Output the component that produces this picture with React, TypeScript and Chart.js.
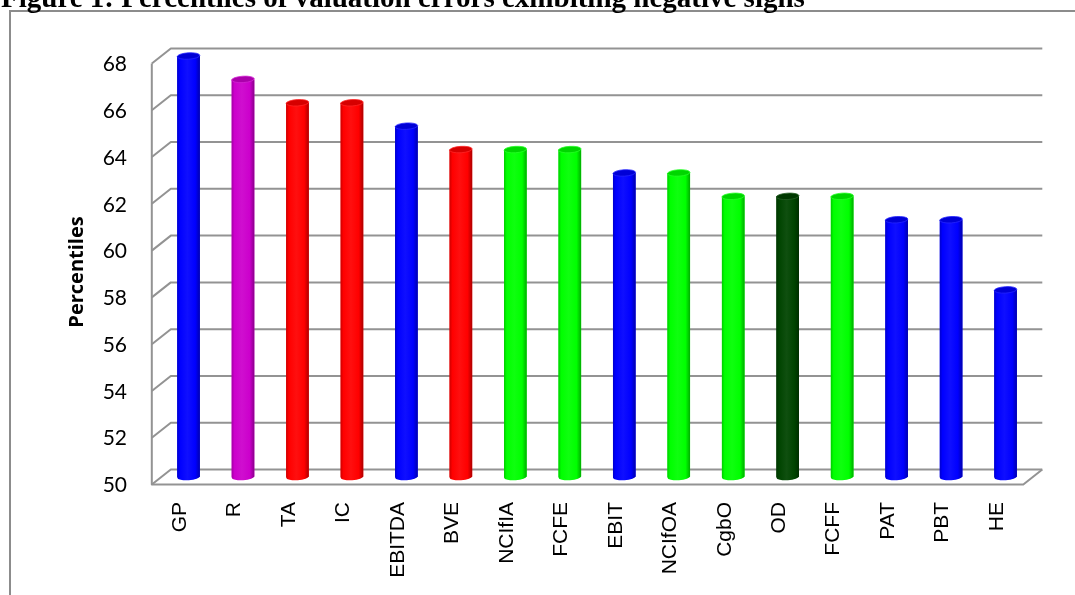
import { useEffect, useRef } from "react";
import { Chart, registerables } from "chart.js";

Chart.register(...registerables);

// Measures and their percentile values
const categories = ["GP", "R", "TA", "IC", "EBITDA", "BVE", "NCIfIA", "FCFE", "EBIT", "NCIfOA", "CgbO", "OD", "FCFF", "PAT", "PBT", "HE"];
const percentiles = [68, 67, 66, 66, 65, 64, 64, 64, 63, 63, 62, 62, 62, 61, 61, 58];
const barColors = [
  "#0000FF", "#CC00CC", "#FF0000", "#FF0000", "#0000FF", "#FF0000", "#00FF00", "#00FF00",
  "#0000FF", "#00FF00", "#00FF00", "#004400", "#00FF00", "#0000FF", "#0000FF", "#0000FF",
];
const yTicks = [50, 52, 54, 56, 58, 60, 62, 64, 66, 68];
const titleText = "Figure 1: Percentiles of valuation errors exhibiting negative signs";
const axisTitle = "Percentiles";

// half of the box depth used for the pseudo-3D walls
const DX = 9.5;
const DY = 7.5;

function rgb(hex: string): number[] {
  const h = hex.replace("#", "");
  return [0, 2, 4].map((i) => parseInt(h.slice(i, i + 2), 16));
}
function shade(hex: string, f: number): string {
  const [r, g, b] = rgb(hex);
  return `rgb(${Math.round(r * f)},${Math.round(g * f)},${Math.round(b * f)})`;
}
function tint(hex: string, f: number): string {
  const [r, g, b] = rgb(hex);
  const m = (c: number) => Math.round(c + (255 - c) * f);
  return `rgb(${m(r)},${m(g)},${m(b)})`;
}

const scenePlugin = {
  id: "scene3d",
  beforeDraw(chart: any) {
    const ctx: CanvasRenderingContext2D = chart.ctx;
    const { left, right } = chart.chartArea;
    const ys = chart.scales.y;
    const xs = chart.scales.x;
    ctx.save();
    ctx.fillStyle = "#ffffff";
    ctx.fillRect(0, 0, chart.width, chart.height);

    // outer frame (left and top edges)
    ctx.strokeStyle = "#8c8c8c";
    ctx.lineWidth = 2;
    ctx.beginPath();
    ctx.moveTo(10, chart.height + 2);
    ctx.lineTo(10, 11);
    ctx.lineTo(chart.width + 2, 11);
    ctx.stroke();

    // figure caption
    ctx.fillStyle = "#000000";
    ctx.font = 'bold 29px "Liberation Serif"';
    ctx.textAlign = "left";
    ctx.textBaseline = "alphabetic";
    ctx.fillText(titleText, 1, 7);

    // back wall gridlines and left wall
    const base = ys.getPixelForValue(yTicks[0]);
    const top = ys.getPixelForValue(yTicks[yTicks.length - 1]);
    ctx.strokeStyle = "#939393";
    ctx.lineWidth = 2;
    ctx.lineJoin = "round";
    yTicks.forEach((t) => {
      const py = ys.getPixelForValue(t);
      ctx.beginPath();
      ctx.moveTo(left - DX, py + DY);
      ctx.lineTo(left + DX, py - DY);
      ctx.lineTo(right + DX, py - DY);
      ctx.stroke();
    });
    ctx.beginPath();
    ctx.moveTo(left - DX, top + DY);
    ctx.lineTo(left - DX, base + DY);
    ctx.lineTo(right - DX, base + DY);
    ctx.lineTo(right + DX, base - DY);
    ctx.stroke();

    // value axis labels
    ctx.fillStyle = "#000000";
    ctx.font = '21px Lato';
    ctx.textAlign = "right";
    ctx.textBaseline = "middle";
    yTicks.forEach((t) => {
      ctx.fillText(String(t), 127, ys.getPixelForValue(t) + DY + 1);
    });

    // value axis title
    ctx.save();
    ctx.translate(77, 272);
    ctx.rotate(-Math.PI / 2);
    ctx.font = 'bold 20px "Open Sans"';
    ctx.textAlign = "center";
    ctx.textBaseline = "middle";
    ctx.fillText(axisTitle, 0, 0);
    ctx.restore();

    // category labels
    ctx.font = '21px "Liberation Sans"';
    categories.forEach((c, i) => {
      const px = xs.getPixelForValue(i) - 8.5;
      ctx.save();
      ctx.translate(px, 502);
      ctx.rotate(-Math.PI / 2);
      ctx.textAlign = "right";
      ctx.textBaseline = "middle";
      ctx.fillText(c, 0, 0);
      ctx.restore();
    });
    ctx.restore();
  },
  afterDatasetsDraw(chart: any) {
    const ctx: CanvasRenderingContext2D = chart.ctx;
    const meta = chart.getDatasetMeta(0);
    const ry = 3.2;
    const rot = -0.06;
    ctx.save();
    meta.data.forEach((bar: any, i: number) => {
      const { x, y, base, width } = bar.getProps(["x", "y", "base", "width"], true);
      const hw = width / 2;
      const color = barColors[i];
      const g = ctx.createLinearGradient(x - hw, 0, x + hw, 0);
      g.addColorStop(0, shade(color, 0.8));
      g.addColorStop(0.12, color);
      g.addColorStop(0.45, tint(color, 0.06));
      g.addColorStop(0.8, color);
      g.addColorStop(1, shade(color, 0.68));
      // cylinder body with rounded bottom
      ctx.fillStyle = g;
      ctx.beginPath();
      ctx.moveTo(x - hw, y);
      ctx.lineTo(x - hw, base);
      ctx.ellipse(x, base, hw, ry, rot, Math.PI, 0, true);
      ctx.lineTo(x + hw, y);
      ctx.closePath();
      ctx.fill();
      // cap
      ctx.beginPath();
      ctx.ellipse(x, y, hw, ry, rot, 0, Math.PI * 2);
      ctx.fillStyle = shade(color, 0.84);
      ctx.fill();
      ctx.lineWidth = 0.8;
      ctx.strokeStyle = tint(color, 0.15);
      ctx.stroke();
    });
    ctx.restore();
  },
};

export default function App() {
  const canvasRef = useRef<HTMLCanvasElement | null>(null);

  useEffect(() => {
    if (!canvasRef.current) return;
    const chart = new Chart(canvasRef.current, {
      type: "bar",
      data: {
        labels: categories,
        datasets: [
          {
            data: percentiles,
            base: 50,
            backgroundColor: barColors,
            borderWidth: 0,
            barPercentage: 0.415,
            categoryPercentage: 1,
          },
        ],
      },
      options: {
        animation: false,
        responsive: false,
        maintainAspectRatio: false,
        devicePixelRatio: 1,
        layout: { padding: { left: 161.3, right: 42.2, top: 56, bottom: 118 } },
        scales: {
          x: { display: false, offset: true },
          y: { display: false, min: 50, max: 68 },
        },
        plugins: {
          legend: { display: false },
          title: { display: false },
          tooltip: { enabled: false },
        },
      },
      plugins: [scenePlugin],
    });
    return () => chart.destroy();
  }, []);

  return (
    <div style={{ position: "fixed", left: 0, top: 0, width: 1075, height: 595, background: "#fff" }}>
      <canvas ref={canvasRef} width={1075} height={595} style={{ width: 1075, height: 595, display: "block" }} />
    </div>
  );
}
